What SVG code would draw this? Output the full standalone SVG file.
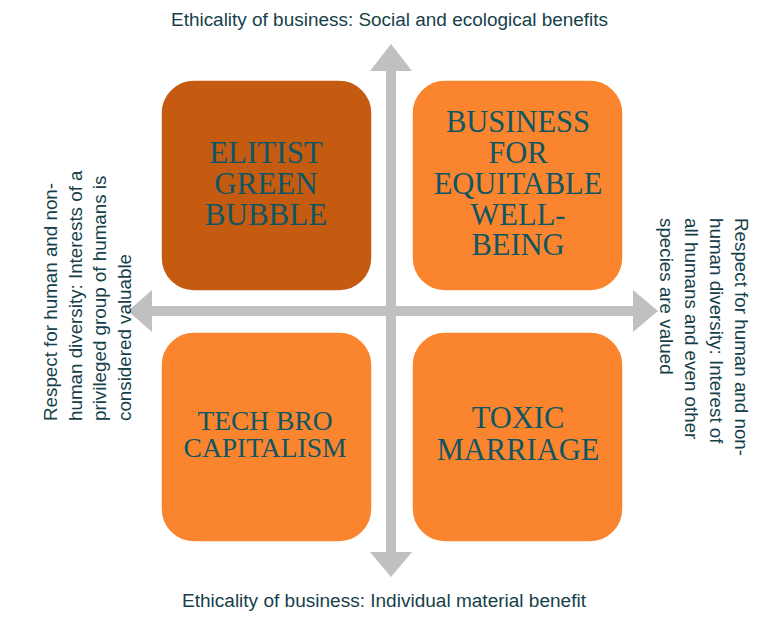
<svg xmlns="http://www.w3.org/2000/svg" width="784" height="625" viewBox="0 0 784 625">
<style>
.box{stroke:#ffffff;stroke-width:1.5}
.dark{fill:#C55A11}
.light{fill:#FB842E}
.bt{font-family:"Liberation Serif","Times New Roman",serif;fill:#0F5663;text-anchor:middle}
.lbl{font-family:"Liberation Sans",Arial,sans-serif;font-size:18.8px;fill:#163F4A}
.arr{fill:#C0C0C0}
</style>
<rect width="784" height="625" fill="#ffffff"/>
<g id="connectors">
<path class="arr" d="M386,71 L370,71 L391,44 L412,71 L396,71 L396,552 L412,552 L391,577 L370,552 L386,552 Z"/>
<path class="arr" d="M152,306 L152,290 L128,311 L152,332 L152,316 L633,316 L633,332 L658,311 L633,290 L633,306 Z"/>
</g>
<g id="elitist-green-bubble">
<rect class="box dark" x="161" y="80" width="211" height="211" rx="33"/>
<text class="bt" font-size="31" x="266"><tspan x="266" y="163">ELITIST</tspan><tspan x="266" y="194">GREEN</tspan><tspan x="266" y="225">BUBBLE</tspan></text>
</g>
<g id="business-equitable">
<rect class="box light" x="412" y="80" width="211" height="211" rx="33"/>
<text class="bt" font-size="30.5"><tspan x="518" y="132">BUSINESS</tspan><tspan x="518" y="163">FOR</tspan><tspan x="518" y="194">EQUITABLE</tspan><tspan x="518" y="225">WELL-</tspan><tspan x="518" y="255">BEING</tspan></text>
</g>
<g id="tech-bro-capitalism">
<rect class="box light" x="161" y="332" width="211" height="210" rx="33"/>
<text class="bt" font-size="27.5"><tspan x="265" y="430">TECH BRO</tspan><tspan x="265" y="457">CAPITALISM</tspan></text>
</g>
<g id="toxic-marriage">
<rect class="box light" x="412" y="332" width="211" height="210" rx="33"/>
<text class="bt" font-size="30.5"><tspan x="518" y="428">TOXIC</tspan><tspan x="518" y="460">MARRIAGE</tspan></text>
</g>
<g id="labels">
<text class="lbl" x="171" y="26" textLength="437" lengthAdjust="spacingAndGlyphs">Ethicality of business: Social and ecological benefits</text>
<text class="lbl" x="182" y="607" textLength="404" lengthAdjust="spacingAndGlyphs">Ethicality of business: Individual material benefit</text>
<text class="lbl" transform="translate(57,421) rotate(-90)"><tspan x="0" y="0">Respect for human and non-</tspan><tspan x="0" y="24.6">human diversity: Interests of a</tspan><tspan x="0" y="49.2">privileged group of humans is</tspan><tspan x="0" y="73.8">considered valuable</tspan></text>
<text class="lbl" transform="translate(735,218) rotate(90)"><tspan x="0" y="0">Respect for human and non-</tspan><tspan x="0" y="25">human diversity: Interest of</tspan><tspan x="0" y="50">all humans and even other</tspan><tspan x="0" y="75">species are valued</tspan></text>
</g>
</svg>
